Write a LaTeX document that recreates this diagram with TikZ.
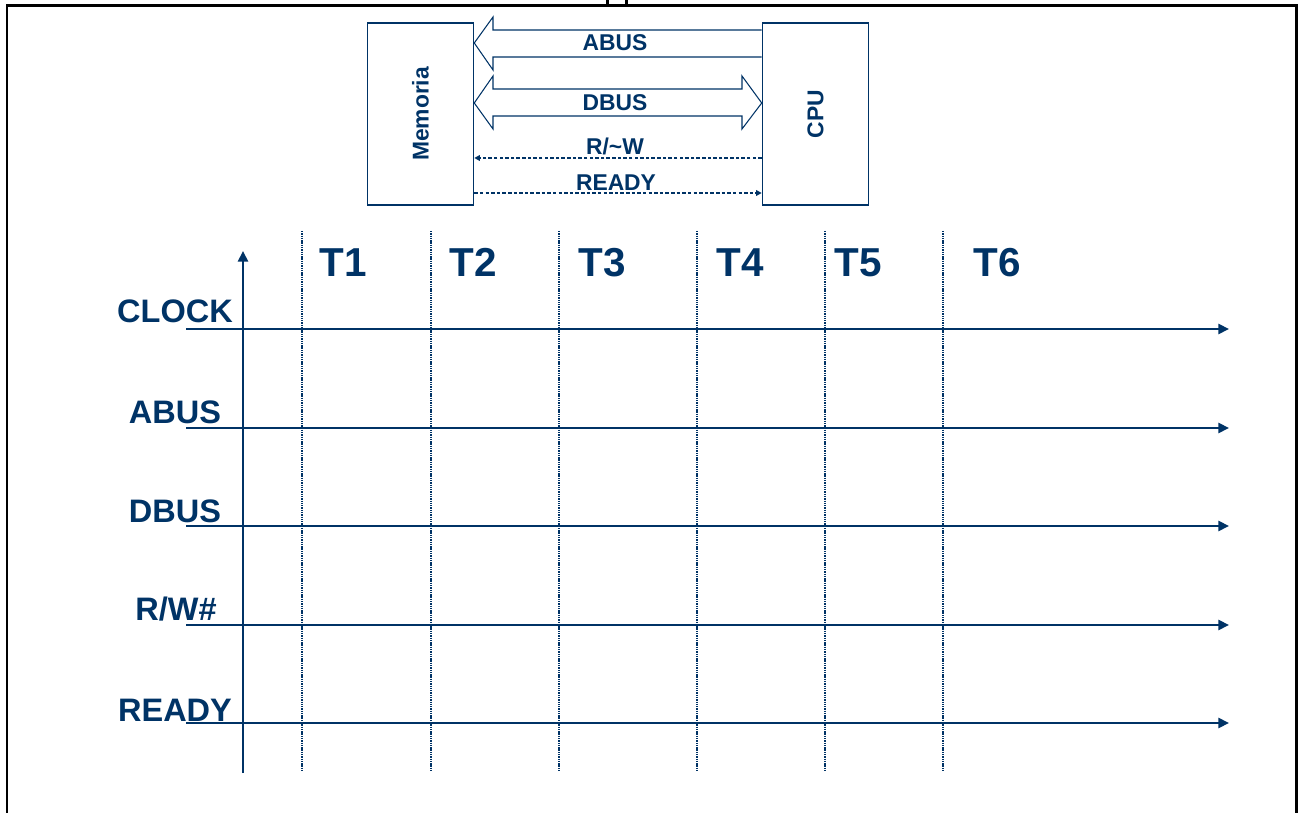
\documentclass[tikz,border=0pt]{standalone}
\usepackage{fontspec}
\setmainfont{Liberation Sans}
\usetikzlibrary{arrows.meta}
\definecolor{navy}{HTML}{003366}
\begin{document}
\begin{tikzpicture}[x=0.02cm,y=-0.02cm,
  unitbox/.style={draw=navy,line width=0.6pt,minimum width=2.13cm,minimum height=3.64cm,inner sep=0pt},
  boxlabel/.style={text=navy,font=\bfseries\fontsize{13}{13}\selectfont,rotate=90},
  buslabel/.style={text=navy,font=\bfseries\fontsize{13}{13}\selectfont,anchor=base},
  busarrow/.style={draw=navy,line width=0.6pt,fill=white},
  sigline/.style={draw=navy,line width=0.8pt,dash pattern=on 2pt off 1.2pt},
  rowlabel/.style={text=navy,font=\bfseries\fontsize{18.5}{18.5}\selectfont,anchor=base},
  tlabel/.style={text=navy,font=\bfseries\fontsize{23}{23}\selectfont,anchor=base},
  axisline/.style={draw=navy,line width=1.2pt,-{Triangle[length=6pt,width=5.7pt]}},
  dotline/.style={draw=navy,line width=1.2pt,dash pattern=on 0.8pt off 0.5pt},
  frameline/.style={draw=black,line width=1.7pt}
]
\useasboundingbox (0,0) rectangle (1298,813);
% outer frame
\draw[frameline] (7,813) -- (7,6) -- (1296,6) -- (1296,813);
\fill (606,0) rectangle (609,5);
\fill (625,0) rectangle (628,5);

% boxes
\node[unitbox] (mem) at (420.5,114) {};
\node[boxlabel] (memtxt) at (mem.center) {Memoria};
\node[unitbox] (cpu) at (815.5,114) {};
\node[boxlabel] (cputxt) at (cpu.center) {CPU};

% ABUS arrow (CPU -> Memoria)
\draw[busarrow] (cpu.west |- 0,30) -- (493,30) -- (493,17) -- (mem.east |- 0,43)
  -- (493,70) -- (493,57) -- (cpu.west |- 0,57);
\node[buslabel] (abus) at (615,51) {ABUS};

% DBUS double arrow
\draw[busarrow] (493,89) -- (742,89) -- (742,76) -- (cpu.west |- 0,103) -- (742,129)
  -- (742,116) -- (493,116) -- (493,129) -- (mem.east |- 0,103) -- (493,76) -- cycle;
\node[buslabel] (dbus) at (615,111) {DBUS};

% control signals
\draw[sigline,-{Triangle[length=3.2pt,width=3.2pt]}] (cpu.west |- 0,158) -- (mem.east |- 0,158);
\node[buslabel] (rw) at (615,155) {R/\char"007EW};
\draw[sigline,-{Triangle[length=3.2pt,width=3.2pt]}] (mem.east |- 0,193) -- (cpu.west |- 0,193);
\node[buslabel] (ready) at (616,191) {READY};

% timing chart
\coordinate (ybot) at (243,773);
\coordinate (ytop) at (243,251);
\draw[axisline] (ybot) -- (ytop);

\foreach \x [count=\i] in {302,431,559,697,825,943}{
  \coordinate (dt\i) at (\x,231);
  \coordinate (db\i) at (\x,772);
  \draw[dotline] (dt\i) -- (db\i);
}
\foreach \x/\t in {343/T1,473/T2,602/T3,740/T4,858/T5,997/T6}{
  \node[tlabel] (lab\t) at (\x,277) {\t};
}

\foreach \y/\b/\name/\txt in {329/323/clk/CLOCK,428/424/ab/ABUS,526/523/db/DBUS,723/721/rdy/READY}{
  \node[rowlabel] (\name lab) at (175,\b) {\txt};
  \coordinate (\name s) at (186,\y);
  \coordinate (\name e) at (1229,\y);
  \draw[axisline] (\name s) -- (\name e);
}
\node[rowlabel] (rwrlab) at (176,621) {R/W\#};
\coordinate (rwrs) at (186,625);
\coordinate (rwre) at (1229,625);
\draw[axisline] (rwrs) -- (rwre);
\end{tikzpicture}
\end{document}
